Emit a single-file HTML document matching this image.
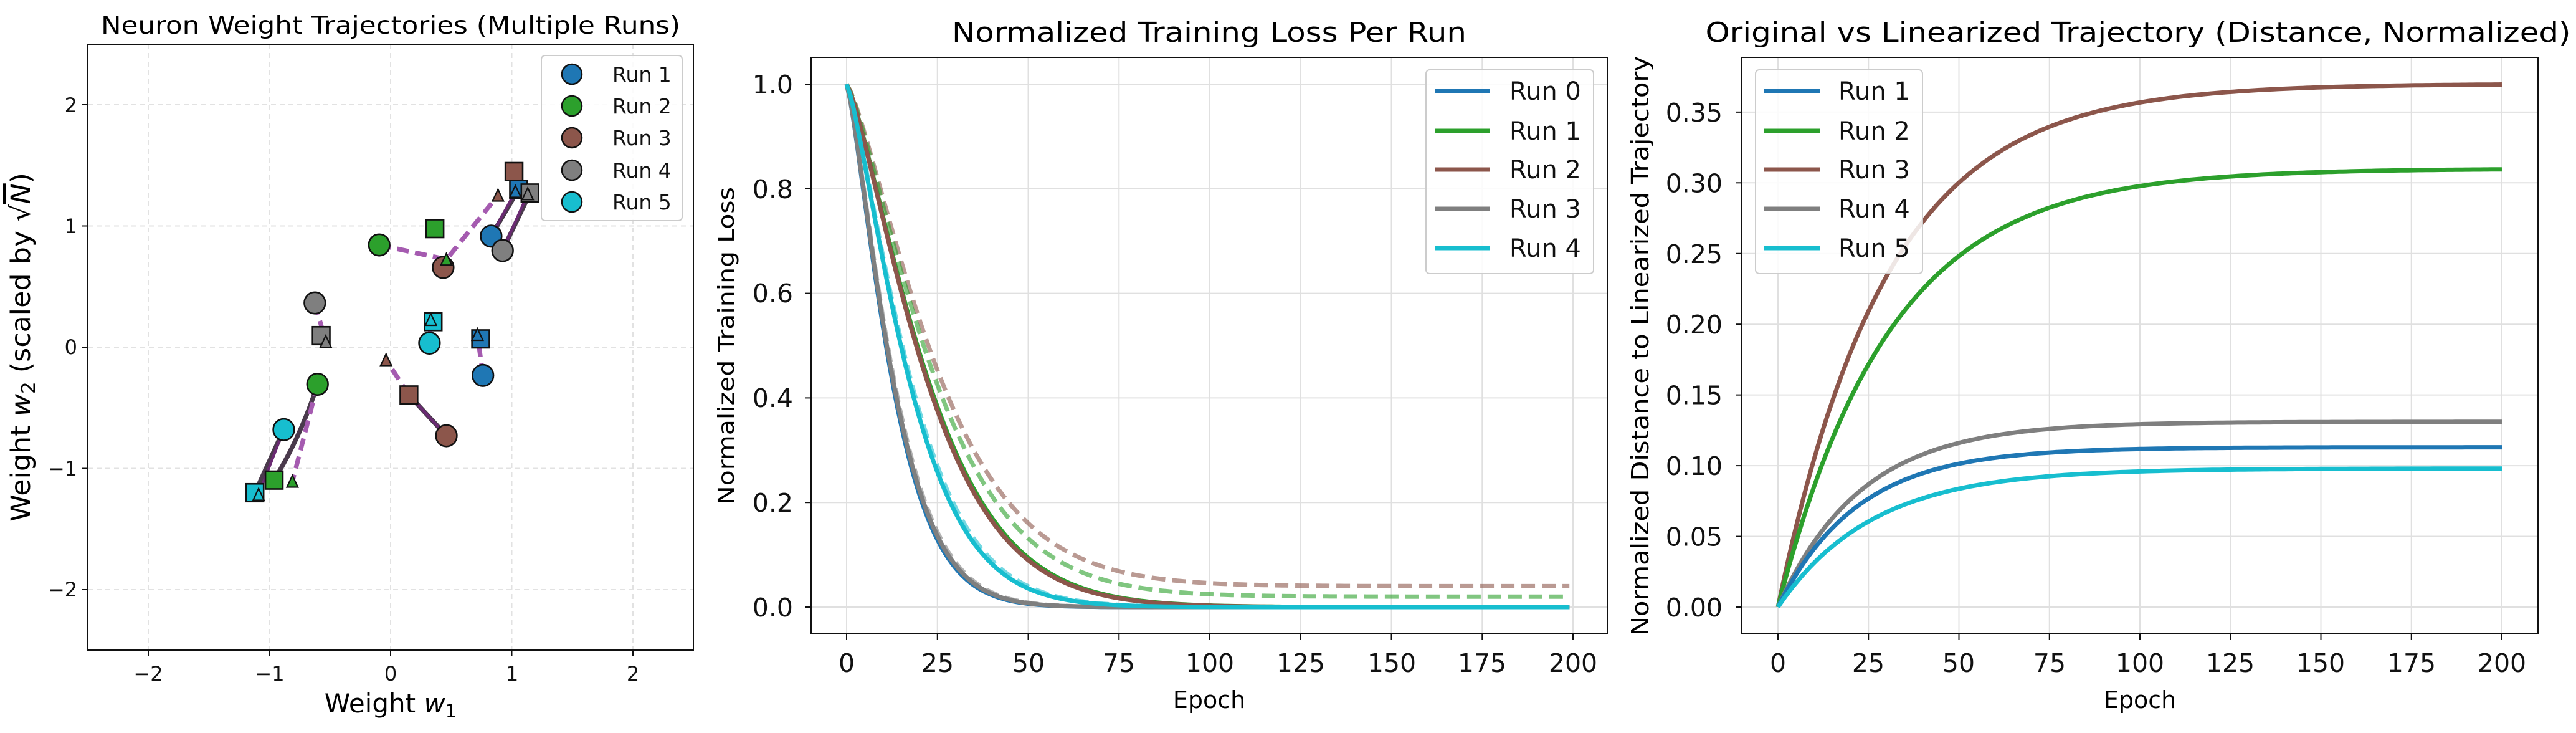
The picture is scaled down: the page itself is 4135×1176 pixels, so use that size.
<!DOCTYPE html>
<html><head><meta charset="utf-8"><style>
html,body{margin:0;padding:0;background:#fff;}
svg{display:block;font-family:"DejaVu Sans","Liberation Sans",sans-serif;}
</style></head><body>
<svg id="s" width="4135" height="1176" viewBox="0 0 4135 1176" xmlns="http://www.w3.org/2000/svg">
<rect width="4135" height="1176" fill="#fff"/>
<!-- PANEL 1 -->
<g id="p1grid" stroke="#e2e2e2" stroke-width="2" stroke-dasharray="8,6"></g>
<g transform="scale(0.7334,0.75)">
 <g fill="none" stroke-linecap="round">
  <g stroke="#4a3a4c" stroke-width="10">
   <line x1="1075" y1="505" x2="1135" y2="405"/>
   <line x1="1100" y1="536" x2="1160" y2="413"/>
   <path d="M695,822 Q660,930 600,1027"/>
   <line x1="621" y1="919" x2="558" y2="1054"/>
   <line x1="977" y1="932" x2="895" y2="845"/>
  </g>
  <g stroke="#6a2a72" stroke-width="6">
   <line x1="1075" y1="505" x2="1128" y2="410"/>
   <line x1="1100" y1="536" x2="1155" y2="415"/>
   <line x1="621" y1="919" x2="566" y2="1058"/>
   <line x1="977" y1="932" x2="895" y2="845"/>
  </g>
  <g stroke="#a55bb0" stroke-width="10" stroke-dasharray="26,14" stroke-linecap="butt">
   <line x1="1057" y1="803" x2="1045" y2="716"/>
   <path d="M830,524 L977,555 L1090,418"/>
   <line x1="695" y1="822" x2="640" y2="1030"/>
   <line x1="895" y1="845" x2="845" y2="770"/>
   <line x1="689" y1="648" x2="713" y2="731"/>
   <line x1="940" y1="734" x2="943" y2="684"/>
  </g>
 </g>
 <g stroke="#111" stroke-width="3.5">
  <rect x="1033" y="706" width="38" height="38" fill="#1f77b4"/>
  <rect x="1116" y="386" width="38" height="38" fill="#1f77b4"/>
  <rect x="933" y="470" width="38" height="38" fill="#2ca02c"/>
  <rect x="581" y="1008" width="38" height="38" fill="#2ca02c"/>
  <rect x="1106" y="348" width="38" height="38" fill="#8c564b"/>
  <rect x="876" y="826" width="38" height="38" fill="#8c564b"/>
  <rect x="1141" y="394" width="38" height="38" fill="#7f7f7f"/>
  <rect x="684" y="699" width="38" height="38" fill="#7f7f7f"/>
  <rect x="929" y="669" width="38" height="38" fill="#17becf"/>
  <rect x="539" y="1035" width="38" height="38" fill="#17becf"/>
  <circle cx="1057" cy="803" r="23" fill="#1f77b4"/>
  <circle cx="1075" cy="505" r="23" fill="#1f77b4"/>
  <circle cx="830" cy="524" r="23" fill="#2ca02c"/>
  <circle cx="695" cy="822" r="23" fill="#2ca02c"/>
  <circle cx="970" cy="572" r="23" fill="#8c564b"/>
  <circle cx="977" cy="932" r="23" fill="#8c564b"/>
  <circle cx="1100" cy="536" r="23" fill="#7f7f7f"/>
  <circle cx="689" cy="648" r="23" fill="#7f7f7f"/>
  <circle cx="940" cy="734" r="23" fill="#17becf"/>
  <circle cx="621" cy="919" r="23" fill="#17becf"/>
 </g>
 <g stroke="#111" stroke-width="3">
  <polygon points="1045,703 1033,728 1057,728" fill="#1f77b4"/>
  <polygon points="1128,397 1116,422 1140,422" fill="#1f77b4"/>
  <polygon points="977,542 965,567 989,567" fill="#2ca02c"/>
  <polygon points="640,1017 628,1042 652,1042" fill="#2ca02c"/>
  <polygon points="1090,405 1078,430 1102,430" fill="#8c564b"/>
  <polygon points="845,757 833,782 857,782" fill="#8c564b"/>
  <polygon points="1155,402 1143,427 1167,427" fill="#7f7f7f"/>
  <polygon points="713,718 701,743 725,743" fill="#7f7f7f"/>
  <polygon points="943,671 931,696 955,696" fill="#17becf"/>
  <polygon points="566,1045 554,1070 578,1070" fill="#17becf"/>
 </g>
</g>
<rect x="141" y="71" width="972" height="972" fill="none" stroke="#111" stroke-width="2"/>
<g id="p1ticks" stroke="#111" stroke-width="2"></g>
<g font-size="32" fill="#111" text-anchor="middle">
 <text x="238" y="1092">−2</text><text x="433" y="1092">−1</text><text x="627" y="1092">0</text><text x="822" y="1092">1</text><text x="1016" y="1092">2</text>
</g>
<g font-size="32" fill="#111" text-anchor="end">
 <text x="124" y="180">2</text><text x="124" y="374">1</text><text x="124" y="568">0</text><text x="124" y="763">−1</text><text x="124" y="957">−2</text>
</g>
<text x="627" y="54" font-size="39" text-anchor="middle" textLength="930" lengthAdjust="spacingAndGlyphs">Neuron Weight Trajectories (Multiple Runs)</text>
<text x="627" y="1143" font-size="42" text-anchor="middle">Weight <tspan font-style="italic">w</tspan><tspan font-size="29" dy="8">1</tspan></text>
<text transform="translate(48,557) rotate(-90)" font-size="43" text-anchor="middle" textLength="560" lengthAdjust="spacingAndGlyphs">Weight <tspan font-style="italic">w</tspan><tspan font-size="30" dy="8">2</tspan><tspan dy="-8"> (scaled by √</tspan><tspan font-style="italic" text-decoration="overline">N</tspan>)</text>
<g>
 <rect x="869" y="89" width="226" height="265" rx="6" fill="#fff" fill-opacity="0.85" stroke="#ccc" stroke-width="2"/>
 <g stroke="#111" stroke-width="2.5">
  <circle cx="918" cy="119" r="16" fill="#1f77b4"/>
  <circle cx="918" cy="170" r="16" fill="#2ca02c"/>
  <circle cx="918" cy="221" r="16" fill="#8c564b"/>
  <circle cx="918" cy="273" r="16" fill="#7f7f7f"/>
  <circle cx="918" cy="324" r="16" fill="#17becf"/>
 </g>
 <g font-size="33" fill="#111">
  <text x="983" y="131">Run 1</text><text x="983" y="182">Run 2</text><text x="983" y="233">Run 3</text><text x="983" y="285">Run 4</text><text x="983" y="336">Run 5</text>
 </g>
</g>

<!-- PANEL 2 -->
<g id="p2grid" stroke="#e0e0e0" stroke-width="2"></g>
<g id="p2curves" fill="none" stroke-width="7"></g>
<rect x="1302" y="92" width="1278" height="924" fill="none" stroke="#111" stroke-width="2"/>
<g id="p2ticks" stroke="#111" stroke-width="2"></g>
<g font-size="41" fill="#111" text-anchor="middle">
 <text x="1359" y="1078">0</text><text x="1505" y="1078">25</text><text x="1651" y="1078">50</text><text x="1796" y="1078">75</text><text x="1942" y="1078">100</text><text x="2088" y="1078">125</text><text x="2234" y="1078">150</text><text x="2379" y="1078">175</text><text x="2525" y="1078">200</text>
</g>
<g font-size="41" fill="#111" text-anchor="end">
 <text x="1273" y="989">0.0</text><text x="1273" y="821">0.2</text><text x="1273" y="653">0.4</text><text x="1273" y="485">0.6</text><text x="1273" y="318">0.8</text><text x="1273" y="150">1.0</text>
</g>
<text x="1941" y="1136" font-size="38" text-anchor="middle">Epoch</text>
<text transform="translate(1178,555) rotate(-90)" font-size="36" text-anchor="middle" textLength="510" lengthAdjust="spacingAndGlyphs">Normalized Training Loss</text>
<text x="1941" y="67" font-size="44" text-anchor="middle" textLength="826" lengthAdjust="spacingAndGlyphs">Normalized Training Loss Per Run</text>
<g>
 <rect x="2289" y="112" width="269" height="327" rx="6" fill="#fff" fill-opacity="0.85" stroke="#ccc" stroke-width="2"/>
 <g stroke-width="7">
  <line x1="2303" y1="146" x2="2392" y2="146" stroke="#1f77b4"/>
  <line x1="2303" y1="210" x2="2392" y2="210" stroke="#2ca02c"/>
  <line x1="2303" y1="272" x2="2392" y2="272" stroke="#8c564b"/>
  <line x1="2303" y1="335" x2="2392" y2="335" stroke="#7f7f7f"/>
  <line x1="2303" y1="398" x2="2392" y2="398" stroke="#17becf"/>
 </g>
 <g font-size="40" fill="#111">
  <text x="2423" y="160">Run 0</text><text x="2423" y="224">Run 1</text><text x="2423" y="286">Run 2</text><text x="2423" y="349">Run 3</text><text x="2423" y="412">Run 4</text>
 </g>
</g>

<!-- PANEL 3 -->
<g id="p3grid" stroke="#e0e0e0" stroke-width="2"></g>
<g id="p3curves" fill="none" stroke-width="7"></g>
<rect x="2796" y="92" width="1278" height="924" fill="none" stroke="#111" stroke-width="2"/>
<g id="p3ticks" stroke="#111" stroke-width="2"></g>
<g font-size="41" fill="#111" text-anchor="middle">
 <text x="2854" y="1078">0</text><text x="2999" y="1078">25</text><text x="3144" y="1078">50</text><text x="3290" y="1078">75</text><text x="3435" y="1078">100</text><text x="3580" y="1078">125</text><text x="3725" y="1078">150</text><text x="3871" y="1078">175</text><text x="4016" y="1078">200</text>
</g>
<g id="p3yl" font-size="41" fill="#111" text-anchor="end"></g>
<text x="3435" y="1136" font-size="38" text-anchor="middle">Epoch</text>
<text transform="translate(2646,555) rotate(-90)" font-size="38" text-anchor="middle" textLength="930" lengthAdjust="spacingAndGlyphs">Normalized Distance to Linearized Trajectory</text>
<text x="3432" y="67" font-size="44" text-anchor="middle" textLength="1389" lengthAdjust="spacingAndGlyphs">Original vs Linearized Trajectory (Distance, Normalized)</text>
<g>
 <rect x="2818" y="112" width="268" height="327" rx="6" fill="#fff" fill-opacity="0.85" stroke="#ccc" stroke-width="2"/>
 <g stroke-width="7">
  <line x1="2831" y1="146" x2="2921" y2="146" stroke="#1f77b4"/>
  <line x1="2831" y1="210" x2="2921" y2="210" stroke="#2ca02c"/>
  <line x1="2831" y1="272" x2="2921" y2="272" stroke="#8c564b"/>
  <line x1="2831" y1="335" x2="2921" y2="335" stroke="#7f7f7f"/>
  <line x1="2831" y1="398" x2="2921" y2="398" stroke="#17becf"/>
 </g>
 <g font-size="40" fill="#111">
  <text x="2951" y="160">Run 1</text><text x="2951" y="224">Run 2</text><text x="2951" y="286">Run 3</text><text x="2951" y="349">Run 4</text><text x="2951" y="412">Run 5</text>
 </g>
</g>
</svg>
<script>
var NS="http://www.w3.org/2000/svg";
function el(p,t,a){var e=document.createElementNS(NS,t);for(var k in a)e.setAttribute(k,a[k]);document.getElementById(p).appendChild(e);return e;}
for(var v=-2;v<=2;v++){var x=627+v*194.5,y=557-v*194.5;
 el("p1grid","line",{x1:x,y1:71,x2:x,y2:1043});el("p1grid","line",{x1:141,y1:y,x2:1113,y2:y});
 el("p1ticks","line",{x1:x,y1:1043,x2:x,y2:1053});el("p1ticks","line",{x1:131,y1:y,x2:141,y2:y});}
function X2(t){return 1359+t*5.83;}function Y2(v){return 974-v*839;}
for(var t=0;t<=200;t+=25){el("p2grid","line",{x1:X2(t),y1:92,x2:X2(t),y2:1016});el("p2ticks","line",{x1:X2(t),y1:1016,x2:X2(t),y2:1026});}
for(var i=0;i<=5;i++){var y=Y2(i*0.2);el("p2grid","line",{x1:1302,y1:y,x2:2580,y2:y});el("p2ticks","line",{x1:1292,y1:y,x2:1302,y2:y});}
function g(t,tau){return Math.exp(-Math.pow(t/tau,1.3));}
function curve(id,f,X,Y,attrs){var d="";for(var t=0;t<=199;t+=1){d+=(t?"L":"M")+X(t).toFixed(1)+","+Y(f(t)).toFixed(1);}attrs.d=d;el(id,"path",attrs);}
var da={"stroke-opacity":0.6,"stroke-dasharray":"22,11"};
function A(o,c){var r={stroke:c};for(var k in o)r[k]=o[k];return r;}
curve("p2curves",function(t){return 0.04+0.96*g(t,28.5);},X2,Y2,A(da,"#8c564b"));
curve("p2curves",function(t){return 0.02+0.98*g(t,27.5);},X2,Y2,A(da,"#2ca02c"));
curve("p2curves",function(t){return g(t,15);},X2,Y2,A(da,"#7f7f7f"));
curve("p2curves",function(t){return g(t,20.3);},X2,Y2,A(da,"#17becf"));
curve("p2curves",function(t){return g(t,25.8);},X2,Y2,{stroke:"#2ca02c"});
curve("p2curves",function(t){return g(t,25.4);},X2,Y2,{stroke:"#8c564b"});
curve("p2curves",function(t){return g(t,14.4);},X2,Y2,{stroke:"#1f77b4"});
curve("p2curves",function(t){return g(t,14.7);},X2,Y2,{stroke:"#7f7f7f"});
curve("p2curves",function(t){return g(t,19.8);},X2,Y2,{stroke:"#17becf"});
function X3(t){return 2854+t*5.81;}function Y3(v){return 974-v*2269;}
for(var t=0;t<=200;t+=25){el("p3grid","line",{x1:X3(t),y1:92,x2:X3(t),y2:1016});el("p3ticks","line",{x1:X3(t),y1:1016,x2:X3(t),y2:1026});}
for(var i=0;i<=7;i++){var v=i*0.05,y=Y3(v);el("p3grid","line",{x1:2796,y1:y,x2:4074,y2:y});el("p3ticks","line",{x1:2786,y1:y,x2:2796,y2:y});
 var tx=el("p3yl","text",{x:2765,y:y+15});tx.textContent=v.toFixed(2);}
function h(A,tau){return function(t){return A*(1-Math.exp(-t/tau));};}
function curve3(A,tau,c){var d="";for(var t=0;t<=200;t+=1){d+=(t?"L":"M")+X3(t).toFixed(1)+","+Y3(h(A,tau)(t)).toFixed(1);}el("p3curves","path",{d:d,stroke:c});}
curve3(0.370,30,"#8c564b");curve3(0.310,31,"#2ca02c");curve3(0.131,23,"#7f7f7f");curve3(0.113,22,"#1f77b4");curve3(0.098,26,"#17becf");
</script>
</body></html>
